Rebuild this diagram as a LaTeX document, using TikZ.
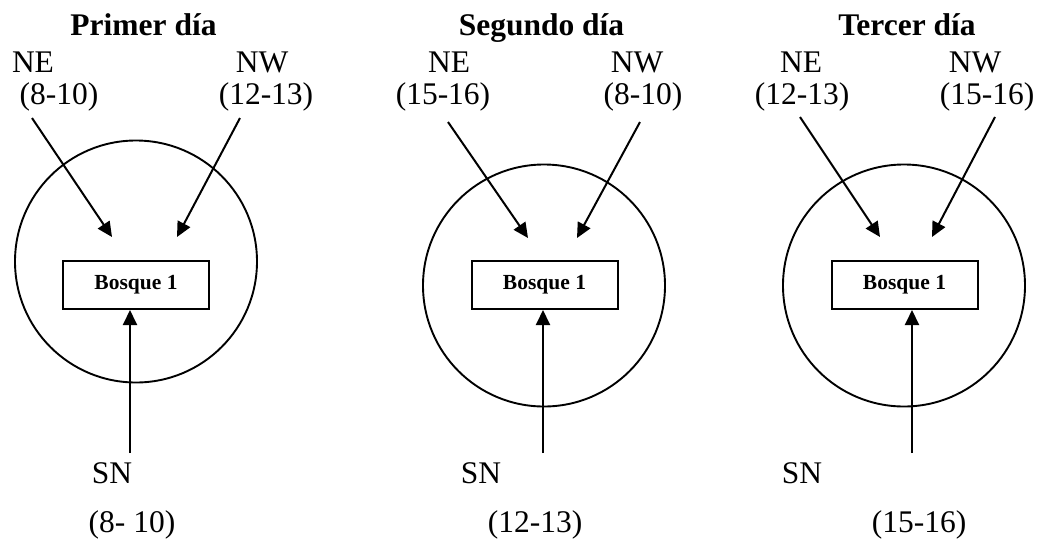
\documentclass[tikz,border=0pt]{standalone}
\usepackage{fontspec}
\setmainfont{Liberation Serif}
\usetikzlibrary{arrows.meta}
\begin{document}
\begin{tikzpicture}[x=1pt,y=-1pt,
  lbl/.style={font=\fontsize{31.5}{36}\selectfont, anchor=base, inner sep=0pt},
  ttl/.style={font=\fontsize{31.5}{36}\selectfont\bfseries, anchor=base, inner sep=0pt},
  forest/.style={draw, line width=2pt, minimum width=146pt, minimum height=48pt, font=\fontsize{21.5}{24}\selectfont\bfseries, inner sep=0pt},
  ring/.style={draw, circle, line width=1.9pt, minimum size=242pt, inner sep=0pt},
  wind/.style={line width=2pt, -{Triangle[length=15pt,width=14pt]}}]
\useasboundingbox (0,0) rectangle (1041,542);
% ---------- Panel 1 ----------
\node[ring] (c1) at (136,261.5) {};
\node[forest] (b1) at (136,285) {Bosque 1};
\node[ttl] (t1) at (143.5,35) {Primer día};
\node[lbl] (ne1) at (33,72) {NE};
\node[lbl] (ne1h) at (59,104) {(8-10)};
\node[lbl] (nw1) at (262,72) {NW};
\node[lbl] (nw1h) at (266,104) {(12-13)};
\node[lbl] (sn1) at (112,483) {SN};
\node[lbl] (sn1h) at (132,532) {(8- 10)};
\coordinate (a1s) at (32,118);  \coordinate (a1e) at (112,237);
\coordinate (b1s) at (240,118); \coordinate (b1e) at (177,237);
\coordinate (s1s) at (130,453); \coordinate (s1e) at (130,310);
\draw[wind] (a1s) -- (a1e);
\draw[wind] (b1s) -- (b1e);
\draw[wind] (s1s) -- (s1e);
% ---------- Panel 2 ----------
\node[ring] (c2) at (544,285.5) {};
\node[forest] (b2) at (544.5,285) {Bosque 1};
\node[ttl] (t2) at (541.5,35) {Segundo día};
\node[lbl] (ne2) at (449,72) {NE};
\node[lbl] (ne2h) at (443,104) {(15-16)};
\node[lbl] (nw2) at (637,72) {NW};
\node[lbl] (nw2h) at (643,104) {(8-10)};
\node[lbl] (sn2) at (481,483) {SN};
\node[lbl] (sn2h) at (535,532) {(12-13)};
\coordinate (a2s) at (448,122); \coordinate (a2e) at (528,238);
\coordinate (b2s) at (640,122); \coordinate (b2e) at (577,238);
\coordinate (s2s) at (543,453); \coordinate (s2e) at (543,310);
\draw[wind] (a2s) -- (a2e);
\draw[wind] (b2s) -- (b2e);
\draw[wind] (s2s) -- (s2e);
% ---------- Panel 3 ----------
\node[ring] (c3) at (904,285.5) {};
\node[forest] (b3) at (904.5,285) {Bosque 1};
\node[ttl] (t3) at (907,35) {Tercer día};
\node[lbl] (ne3) at (801,72) {NE};
\node[lbl] (ne3h) at (802,104) {(12-13)};
\node[lbl] (nw3) at (975,72) {NW};
\node[lbl] (nw3h) at (987,104) {(15-16)};
\node[lbl] (sn3) at (802,483) {SN};
\node[lbl] (sn3h) at (919,532) {(15-16)};
\coordinate (a3s) at (800,117); \coordinate (a3e) at (880,237);
\coordinate (b3s) at (995,117); \coordinate (b3e) at (932,237);
\coordinate (s3s) at (912,453); \coordinate (s3e) at (912,310);
\draw[wind] (a3s) -- (a3e);
\draw[wind] (b3s) -- (b3e);
\draw[wind] (s3s) -- (s3e);
\end{tikzpicture}
\end{document}
